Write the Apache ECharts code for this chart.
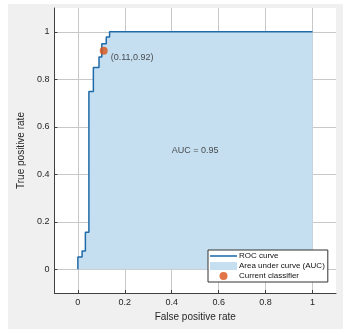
<!DOCTYPE html>
<html>
<head>
<meta charset="utf-8">
<script src="https://cdn.jsdelivr.net/npm/echarts@6/dist/echarts.min.js"></script>
<style>
html,body{margin:0;padding:0;background:#fff;width:343px;height:329px;overflow:hidden;}
#c{position:absolute;left:8px;top:4px;width:335px;height:325px;background:#f0f0f0;}
</style>
</head>
<body>
<div id="c"></div>
<script>
// ROC curve vertices (false positive rate, true positive rate)
const fpr = [0, 0, 0.018, 0.018, 0.032, 0.032, 0.047, 0.047, 0.066, 0.066, 0.09, 0.09, 0.102, 0.102, 0.121, 0.121, 0.135, 0.135, 1];
const tpr = [0, 0.052, 0.052, 0.077, 0.077, 0.156, 0.156, 0.748, 0.748, 0.85, 0.85, 0.894, 0.894, 0.95, 0.95, 0.978, 0.978, 1, 1];
// current classifier operating point
const classifierX = 0.11;
const classifierY = 0.92;
// area under curve
const aucValue = 0.95;
const aucLabelPos = [0.5, 0.5];
// tick values
const xTicks = [0, 0.2, 0.4, 0.6, 0.8, 1];
const yTicks = [0, 0.2, 0.4, 0.6, 0.8, 1];
const seriesNames = ['ROC curve', 'Area under curve (AUC)', 'Current classifier'];

const rocData = fpr.map((x, i) => [x, tpr[i]]);
const font = 'Liberation Sans, Arial, Helvetica, sans-serif';

const chart = echarts.init(document.getElementById('c'));
const axisCommon = {
  type: 'value',
  min: -0.1,
  max: 1.1,
  nameLocation: 'middle',
  nameTextStyle: {fontSize: 10, color: '#262626', fontFamily: font},
  axisLine: {show: true, onZero: false, lineStyle: {color: '#404040', width: 1}},
  axisTick: {show: true, inside: true, length: 3, lineStyle: {color: '#404040'}},
  axisLabel: {fontSize: 9, color: '#262626', fontFamily: font, formatter: v => String(v)},
  splitLine: {show: true, lineStyle: {color: '#c8c8c8', width: 1, type: 'solid'}}
};
chart.setOption({
  animation: false,
  backgroundColor: '#f0f0f0',
  grid: {left: 43, top: 4, width: 285, height: 285, show: true, backgroundColor: '#fff', borderWidth: 0},
  xAxis: Object.assign({}, axisCommon, {
    name: 'False positive rate', nameGap: 17,
    axisTick: Object.assign({}, axisCommon.axisTick, {customValues: xTicks}),
    axisLabel: Object.assign({}, axisCommon.axisLabel, {customValues: xTicks, margin: 5})
  }),
  yAxis: Object.assign({}, axisCommon, {
    name: 'True positive rate', nameGap: 25,
    axisTick: Object.assign({}, axisCommon.axisTick, {customValues: yTicks}),
    axisLabel: Object.assign({}, axisCommon.axisLabel, {customValues: yTicks, margin: 5})
  }),
  legend: {
    orient: 'vertical', left: 200, top: 246, z: 20,
    backgroundColor: '#fff', borderColor: '#333', borderWidth: 1,
    padding: [2, 3, 2, 2], itemGap: 2, itemWidth: 27, itemHeight: 8,
    textStyle: {fontSize: 8, color: '#111', fontFamily: font, padding: [0, 0, 0, -3]},
    data: [
      {name: seriesNames[0], icon: 'path://M0,0L0,0M0,3.2L28,3.2L28,4.8L0,4.8ZM28,8L28,8'},
      {name: seriesNames[1], icon: 'rect'},
      {name: seriesNames[2], icon: 'circle'}
    ]
  },
  series: [
    {
      name: seriesNames[1], type: 'line', data: rocData, symbol: 'none',
      lineStyle: {width: 0, opacity: 0},
      itemStyle: {color: '#c6dff0'},
      areaStyle: {color: '#c6dff0', opacity: 1, origin: 'auto'},
      z: 2
    },
    {
      name: seriesNames[0], type: 'line', data: rocData, symbol: 'none',
      lineStyle: {width: 1.5, color: '#1f6aa8'},
      itemStyle: {color: '#1f6aa8'},
      z: 3
    },
    {
      name: seriesNames[2], type: 'scatter', data: [[classifierX, classifierY]],
      symbol: 'circle', symbolSize: 8,
      itemStyle: {color: '#d95319'},
      label: {show: true, position: 'right', distance: 3, offset: [0, 7],
        fontSize: 9, color: '#262626', fontFamily: font,
        formatter: p => '(' + p.value[0] + ',' + p.value[1] + ')'},
      z: 4
    },
    {
      name: 'AUC', type: 'scatter', data: [aucLabelPos], symbolSize: 0,
      label: {show: true, position: 'inside', fontSize: 9, color: '#262626', fontFamily: font,
        formatter: () => 'AUC = ' + aucValue.toFixed(2)},
      z: 4
    }
  ]
});
</script>
</body>
</html>
